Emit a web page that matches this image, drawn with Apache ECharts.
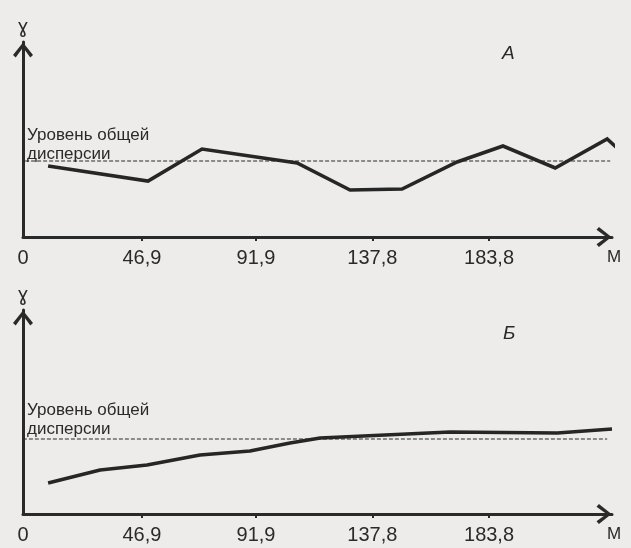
<!DOCTYPE html>
<html><head><meta charset="utf-8">
<script src="https://cdn.jsdelivr.net/npm/echarts@6/dist/echarts.min.js"></script>
<style>html,body{margin:0;padding:0;background:#edecea;}#c{width:631px;height:548px;}</style>
</head><body><div id="c"></div>
<script>
// Tick positions / labels on the distance axis (м)
const xTickValues = [46.9, 91.9, 137.8, 183.8];
const xLabelValues = [0, 46.9, 91.9, 137.8, 183.8];
const xLabelTexts = ['0', '46,9', '91,9', '137,8', '183,8'];
// Panel А
const seriesA_x = [9.9, 49.3, 70.6, 108.1, 129.0, 149.5, 171.2, 189.3, 209.9, 230.4, 234.3];
const seriesA_y = [71, 56, 88, 74, 47, 48, 75, 91, 69, 98, 89];
const levelA = 76;
const levelA_x = [-3.9, 231.6];
// Panel Б
const seriesB_x = [9.9, 30.4, 48.9, 69.8, 89.5, 105.3, 117.2, 168.4, 210.7, 232.3];
const seriesB_y = [31, 44, 49, 59, 63, 71, 76, 82, 81, 85];
const levelB = 75;
const levelB_x = [-2.4, 230.4];

const pair = (xs, ys) => xs.map((x, i) => [x, ys[i]]);
const levelPair = (xs, lv) => xs.map(x => [x, lv]);

const ink = '#2a2a2a';
const font = 'Liberation Sans, Arial, sans-serif';
const arrow = 'path://M10 0 L20 12.6 L17.3 15 L10 5 L2.7 15 L0 12.6 Z';

function xAxisFor(gi) {
  return {
    type: 'value', gridIndex: gi, min: 0, max: 232.3,
    name: 'М', nameLocation: 'end', nameGap: 2,
    nameTextStyle: {color: ink, fontFamily: font, fontSize: 17, align: 'center', verticalAlign: 'top', padding: [12, 0, 0, 0]},
    axisLine: {show: true, onZero: false, symbol: ['none', arrow], symbolSize: [20, 16], symbolOffset: [0, -8],
      lineStyle: {color: ink, width: 3}},
    axisTick: {show: true, customValues: xTickValues, length: 4, inside: false, lineStyle: {color: ink, width: 2}},
    axisLabel: {show: true, customValues: xLabelValues, margin: 11, color: ink, fontFamily: font, fontSize: 20,
      formatter: v => { const i = xLabelValues.findIndex(t => Math.abs(t - v) < 1e-6); return i >= 0 ? xLabelTexts[i] : ''; }},
    splitLine: {show: false}
  };
}
function yAxisFor(gi, max) {
  return {
    type: 'value', gridIndex: gi, min: 0, max: max,
    name: 'ɣ', nameLocation: 'end', nameGap: 4,
    nameTextStyle: {color: ink, fontFamily: 'DejaVu Sans, sans-serif', fontSize: 19, align: 'center'},
    axisLine: {show: true, onZero: false, symbol: ['none', arrow], symbolSize: [20, 16], symbolOffset: [0, -8],
      lineStyle: {color: ink, width: 3}},
    axisTick: {show: false}, axisLabel: {show: false}, splitLine: {show: false}
  };
}

const chart = echarts.init(document.getElementById('c'), null, {renderer: 'canvas'});
chart.setOption({
  backgroundColor: '#edecea',
  animation: false,
  grid: [
    {left: 23, right: 19, top: 42, height: 195},
    {left: 23, right: 19, top: 310, height: 204}
  ],
  xAxis: [xAxisFor(0), xAxisFor(1)],
  yAxis: [yAxisFor(0, 195), yAxisFor(1, 204)],
  graphic: [
    {type: 'text', left: 27, top: 126, style: {text: 'Уровень общей\nдисперсии', fill: ink, font: '17px ' + font, lineHeight: 19}},
    {type: 'text', left: 27, top: 401, style: {text: 'Уровень общей\nдисперсии', fill: ink, font: '17px ' + font, lineHeight: 19}},
    {type: 'text', left: 502, top: 44, style: {text: 'А', fill: ink, font: 'italic 19px ' + font}},
    {type: 'text', left: 503, top: 324, style: {text: 'Б', fill: ink, font: 'italic 19px ' + font}}
  ],
  series: [
    {type: 'line', xAxisIndex: 0, yAxisIndex: 0, data: levelPair(levelA_x, levelA), symbol: 'none', clip: false,
      lineStyle: {color: ink, width: 1, type: [4, 2]}, z: 1},
    {type: 'line', xAxisIndex: 0, yAxisIndex: 0, data: pair(seriesA_x, seriesA_y), symbol: 'none', clip: false,
      lineStyle: {color: '#262626', width: 3.6, join: 'miter'}, z: 3},
    {type: 'line', xAxisIndex: 1, yAxisIndex: 1, data: levelPair(levelB_x, levelB), symbol: 'none', clip: false,
      lineStyle: {color: ink, width: 1, type: [4, 2]}, z: 1},
    {type: 'line', xAxisIndex: 1, yAxisIndex: 1, data: pair(seriesB_x, seriesB_y), symbol: 'none', clip: false,
      lineStyle: {color: '#262626', width: 3.6}, z: 3}
  ]
});
</script></body></html>
